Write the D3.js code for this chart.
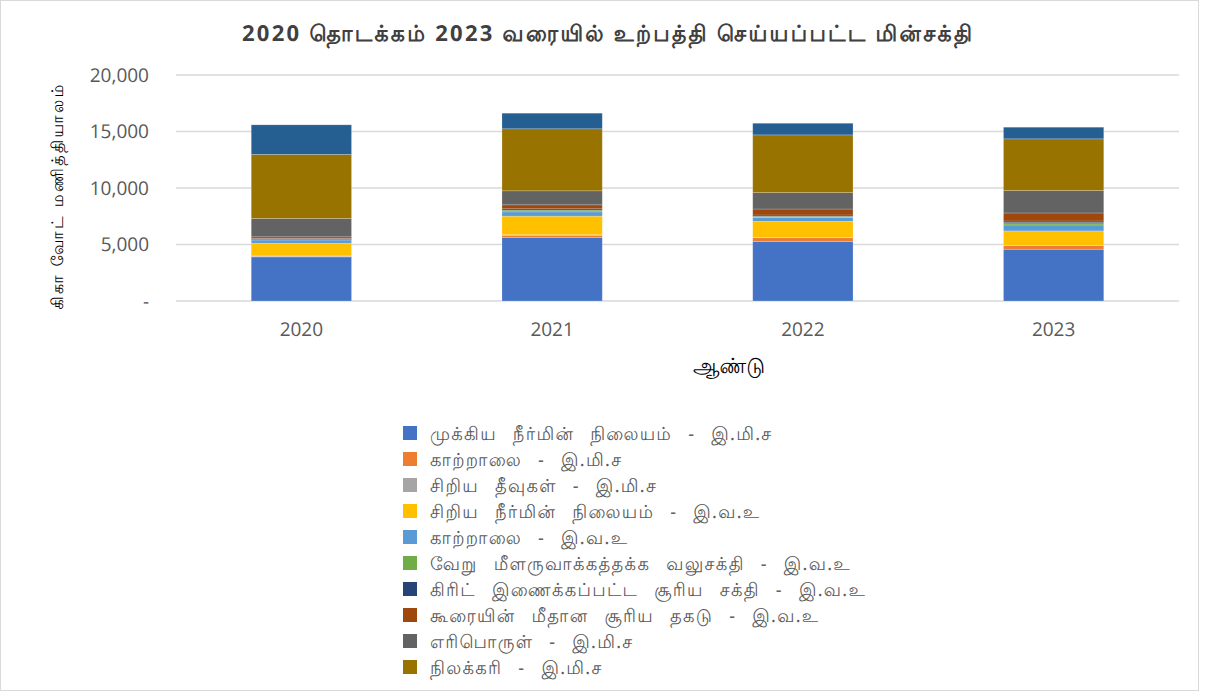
<!DOCTYPE html>
<html>
<head>
<meta charset="utf-8">
<script src="https://cdn.jsdelivr.net/npm/d3@7"></script>
<style>
  body { margin: 0; background: #fff; font-family: "Noto Sans", "DejaVu Sans", sans-serif; text-rendering: geometricPrecision; }
  .title { font-size: 22px; font-weight: bold; fill: #404040; text-anchor: middle; }
  .axis_label { fill: #000; text-anchor: middle; }
  .legend text { font-size: 18px; fill: #595959; letter-spacing: 1.3px; word-spacing: 10px; }
</style>
</head>
<body>
<div id="container"><svg></svg></div>
<script>
let width = 1207;
let height = 693;

// data
let years = ['2020', '2021', '2022', '2023'];
let series = [
    'முக்கிய நீர்மின் நிலையம் - இ.மி.ச',
    'காற்றாலை - இ.மி.ச',
    'சிறிய தீவுகள் - இ.மி.ச',
    'சிறிய நீர்மின் நிலையம் - இ.வ.உ',
    'காற்றாலை - இ.வ.உ',
    'வேறு மீளருவாக்கத்தக்க வலுசக்தி - இ.வ.உ',
    'கிரிட் இணைக்கப்பட்ட சூரிய சக்தி - இ.வ.உ',
    'கூரையின் மீதான சூரிய தகடு - இ.வ.உ',
    'எரிபொருள் - இ.மி.ச',
    'நிலக்கரி - இ.மி.ச',
    'ஏனையவை'
];
let colors = ['#4472C4', '#ED7D31', '#A5A5A5', '#FFC000', '#5B9BD5', '#70AD47',
              '#264478', '#9E480E', '#636363', '#997300', '#255E91'];
let values_2020 = [3900, 40, 50, 1120, 290, 30, 100, 150, 1630, 5660, 2620];
let values_2021 = [5630, 180, 50, 1650, 380, 150, 120, 350, 1240, 5490, 1380];
let values_2022 = [5250, 350, 30, 1420, 350, 90, 120, 530, 1450, 5110, 1030];
let values_2023 = [4580, 320, 30, 1270, 530, 200, 150, 710, 1980, 4580, 1030];
let y_ticks = [0, 5000, 10000, 15000, 20000];
let legend_count = 10;

let table = years.map((yr, i) => {
    let vals = [values_2020, values_2021, values_2022, values_2023][i];
    let row = {year: yr};
    series.forEach((s, j) => row[s] = vals[j]);
    return row;
});

function draw_main() {
    let padding = {left: 176, right: 28, top: 75, bottom: 392};
    let svg = d3.select('#container').select('svg')
        .attr('width', width)
        .attr('height', height);

    // chart border
    svg.append('rect')
        .attr('x', 0.5).attr('y', 0.5)
        .attr('width', width - 9).attr('height', height - 3)
        .attr('fill', '#fff')
        .attr('stroke', '#d9d9d9');

    svg.append('text')
        .attr('class', 'title')
        .attr('x', 607).attr('y', 41)
        .attr('textLength', 730)
        .attr('lengthAdjust', 'spacing')
        .text('2020 தொடக்கம் 2023 வரையில் உற்பத்தி செய்யப்பட்ட மின்சக்தி');

    let x = d3.scaleBand()
        .domain(years)
        .range([padding.left, width - padding.right])
        .padding(0);

    let y = d3.scaleLinear()
        .domain([0, 20000])
        .range([height - padding.bottom, padding.top]);

    // grid
    svg.append('g')
        .selectAll('line')
        .data(y_ticks)
        .enter()
        .append('line')
        .attr('x1', padding.left)
        .attr('x2', width - padding.right)
        .attr('y1', d => y(d))
        .attr('y2', d => y(d))
        .attr('stroke', '#d9d9d9')
        .attr('stroke-width', 1.5);

    // y axis labels
    let axis_y = d3.axisLeft(y)
        .tickValues(y_ticks)
        .tickSize(0)
        .tickPadding(27)
        .tickFormat(d => d === 0 ? '-' : d3.format(',')(d));
    svg.append('g')
        .attr('transform', `translate(${padding.left}, 0)`)
        .call(axis_y)
        .call(g => g.select('.domain').remove())
        .selectAll('text')
        .attr('font-family', '"Open Sans", "Noto Sans", sans-serif')
        .attr('font-size', '19px')
        .attr('fill', '#595959');

    // x axis labels
    let axis_x = d3.axisBottom(x).tickSize(0).tickPadding(22);
    svg.append('g')
        .attr('transform', `translate(0, ${y(0)})`)
        .call(axis_x)
        .call(g => g.select('.domain').remove())
        .selectAll('text')
        .attr('font-family', '"Open Sans", "Noto Sans", sans-serif')
        .attr('font-size', '19px')
        .attr('fill', '#595959');

    // axis titles
    svg.append('text')
        .attr('class', 'axis_label')
        .attr('x', 729).attr('y', 373)
        .attr('font-size', '21px')
        .text('ஆண்டு');
    svg.append('text')
        .attr('class', 'axis_label')
        .attr('transform', `translate(63, 197) rotate(-90)`)
        .attr('font-size', '16px')
        .attr('textLength', 225)
        .attr('lengthAdjust', 'spacing')
        .text('கிகா வோட் மணித்தியாலம்');

    // stacked bars
    let stack = d3.stack().keys(series)(table);
    let barW = x.bandwidth() * 0.4;
    svg.append('g')
        .selectAll('g')
        .data(stack)
        .enter()
        .append('g')
        .attr('fill', (d, i) => colors[i])
        .selectAll('rect')
        .data(d => d)
        .enter()
        .append('rect')
        .attr('x', d => x(d.data.year) + (x.bandwidth() - barW) / 2)
        .attr('width', barW)
        .attr('y', d => y(d[1]))
        .attr('height', d => y(d[0]) - y(d[1]))
        .attr('stroke', '#ffffff')
        .attr('stroke-opacity', 0.3)
        .attr('stroke-width', 0.7);

    // legend
    let legend = svg.append('g')
        .attr('class', 'legend')
        .attr('transform', 'translate(403, 426)');
    let item = legend.selectAll('g')
        .data(series.slice(0, legend_count))
        .enter()
        .append('g')
        .attr('transform', (d, i) => `translate(0, ${i * 26})`);
    item.append('rect')
        .attr('width', 14).attr('height', 14)
        .attr('fill', (d, i) => colors[i]);
    item.append('text')
        .attr('x', 27).attr('y', 14)
        .text(d => d);
}

draw_main();
</script>
</body>
</html>
